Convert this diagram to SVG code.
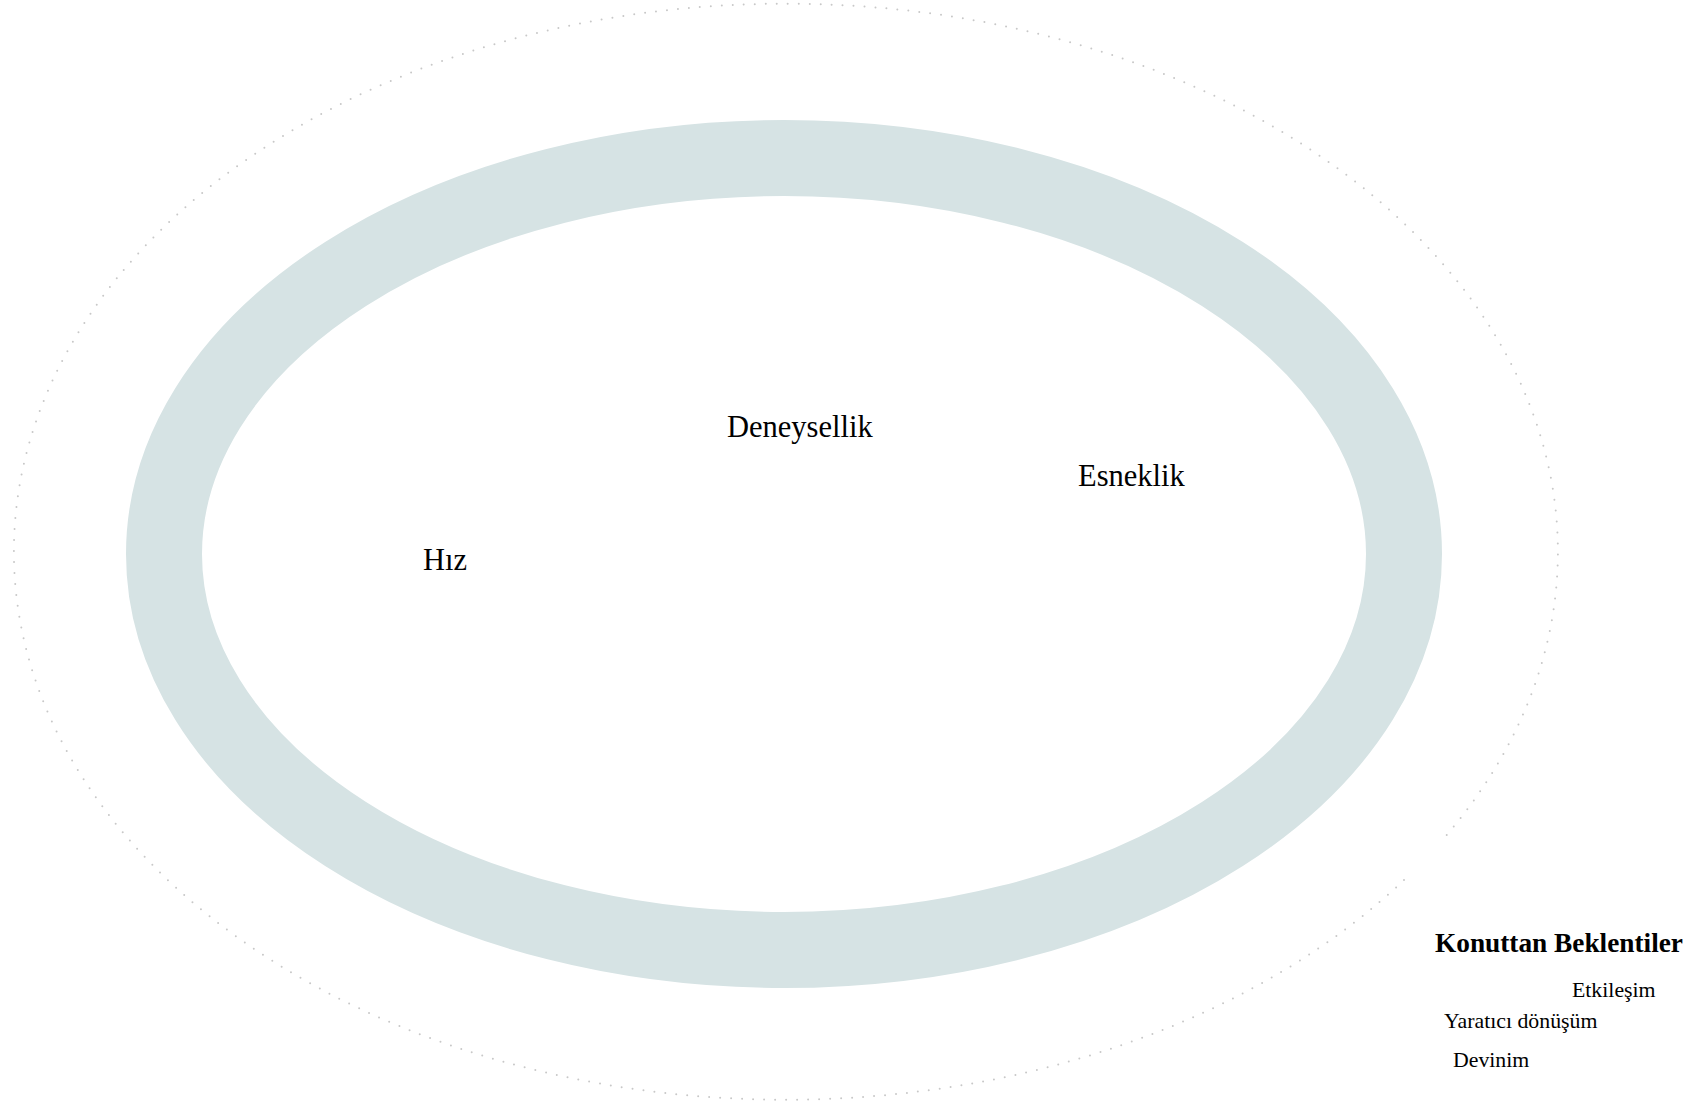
<svg xmlns="http://www.w3.org/2000/svg" width="1703" height="1108" viewBox="0 0 1703 1108">
<style>
.lbl{font-family:"Liberation Serif","Times New Roman",serif;fill:#000;}
.big{font-size:30.5px;}
.sm{font-size:21.8px;}
.ttl{font-size:27.3px;font-weight:bold;}
.ring{fill:none;stroke:#d6e3e4;stroke-width:76;}
.dots{fill:none;stroke:#c8c8c8;stroke-width:2;stroke-linecap:round;stroke-dasharray:0 11;}
</style>
<rect width="1703" height="1108" fill="#ffffff"/>
<g id="outer-boundary">
<path class="dots" d="M 1404 880 A 772 548 0 1 1 1445 837"/>
</g>
<g id="ring">
<ellipse class="ring" cx="784" cy="554" rx="620" ry="396"/>
</g>
<g id="connectors"></g>
<g id="node-deneysellik"><text class="lbl big" x="727" y="437">Deneysellik</text></g>
<g id="node-esneklik"><text class="lbl big" x="1078" y="486">Esneklik</text></g>
<g id="node-hiz"><text class="lbl big" x="423" y="570">Hız</text></g>
<g id="legend">
<text class="lbl ttl" x="1435" y="952">Konuttan Beklentiler</text>
<text class="lbl sm" x="1572" y="997">Etkileşim</text>
<text class="lbl sm" x="1444" y="1028">Yaratıcı dönüşüm</text>
<text class="lbl sm" x="1453" y="1067">Devinim</text>
</g>
</svg>
